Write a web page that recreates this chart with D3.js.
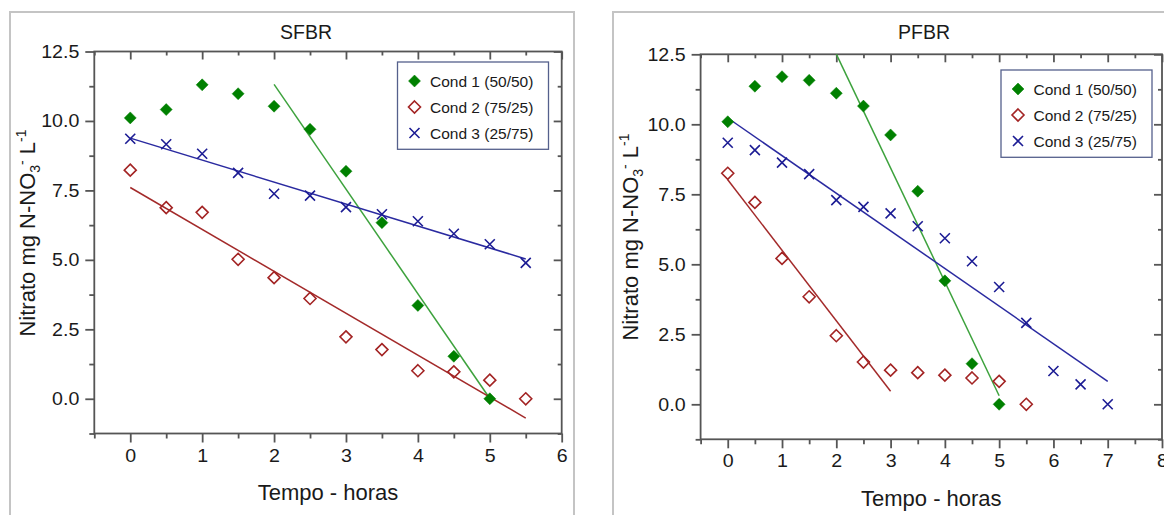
<!DOCTYPE html>
<meta charset="utf-8">
<script src="https://cdn.jsdelivr.net/npm/d3@7"></script>
<style>
  body { margin: 0; background: #fff; }
  text { font-family: "Liberation Sans", Arial, sans-serif; fill: #1a1a1a; }
</style>
<svg></svg>
<script>
    // tempo (horas)
    var horasA = [0, 0.5, 1, 1.5, 2, 2.5, 3, 3.5, 4, 4.5, 5];
    var horasB = [0, 0.5, 1, 1.5, 2, 2.5, 3, 3.5, 4, 4.5, 5, 5.5];
    var horasC = [0, 0.5, 1, 1.5, 2, 2.5, 3, 3.5, 4, 4.5, 5, 5.5, 6, 6.5, 7];

    // SFBR - nitrato mg N-NO3 / L
    var sfbrCond1 = [10.11, 10.41, 11.30, 10.98, 10.53, 9.70, 8.19, 6.34, 3.36, 1.53, 0.0];
    var sfbrCond2 = [8.23, 6.88, 6.71, 5.02, 4.36, 3.61, 2.23, 1.77, 1.01, 0.97, 0.67, 0.0];
    var sfbrCond3 = [9.36, 9.16, 8.82, 8.13, 7.38, 7.31, 6.90, 6.64, 6.39, 5.94, 5.56, 4.89];
    // PFBR
    var pfbrCond1 = [10.09, 11.36, 11.70, 11.57, 11.11, 10.65, 9.62, 7.61, 4.41, 1.45, 0.0];
    var pfbrCond2 = [8.25, 7.21, 5.21, 3.84, 2.45, 1.51, 1.22, 1.13, 1.04, 0.94, 0.82, 0.0];
    var pfbrCond3 = [9.34, 9.08, 8.63, 8.22, 7.29, 7.05, 6.82, 6.36, 5.93, 5.11, 4.19, 2.91, 1.19, 0.71, 0.0];

    // intervalos usados para as retas de regressao
    var sfbrFits = [[2, 5], [0, 5.5], [0, 5.5]];
    var pfbrFits = [[2, 5], [0, 3], [0, 7]];

    var legendLabels = ["Cond 1 (50/50)", "Cond 2 (75/25)", "Cond 3 (25/75)"];
    var yTicks = [0, 2.5, 5, 7.5, 10, 12.5];

    var markColor = ["#008000", "#a32424", "#1c1c94"];
    var lineColor = ["#3da23d", "#a32a2a", "#2a2aa0"];
    var shapes = ["M0,-6L6,0L0,6L-6,0Z", "M0,-6L6,0L0,6L-6,0Z", "M-5,-5L5,5M5,-5L-5,5"];

    var svg = d3.select("svg").attr("width", 1164).attr("height", 515);

    var panels = [
        { title: "SFBR", frame: [10, 12], x0: 94.3, x1: 561.7, y0: 51.5, y1: 433.5, xMax: 6,
          titleX: 306, ylabX: 35, ylabY: 233, leg: [397.5, 62],
          xs: [horasA, horasB, horasB], ys: [sfbrCond1, sfbrCond2, sfbrCond3], fits: sfbrFits },
        { title: "PFBR", frame: [613, 12], x0: 700.6, x1: 1162, y0: 54.3, y1: 439.3, xMax: 8,
          titleX: 924, ylabX: 638, ylabY: 237, leg: [1001, 70],
          xs: [horasA, horasB, horasC], ys: [pfbrCond1, pfbrCond2, pfbrCond3], fits: pfbrFits }
    ];

    function fitLine(xs, ys, range) {
        var px = [], py = [];
        xs.forEach((x, i) => { if (x >= range[0] && x <= range[1]) { px.push(x); py.push(ys[i]); } });
        var mx = d3.mean(px), my = d3.mean(py);
        var sxy = d3.sum(px, (x, i) => (x - mx) * (py[i] - my));
        var sxx = d3.sum(px, x => (x - mx) * (x - mx));
        var b = sxy / sxx, a = my - b * mx;
        return [[range[0], a + b * range[0]], [range[1], a + b * range[1]]];
    }

    function stretch(sel, k) {
        sel.each(function () {
            var w = this.getComputedTextLength();
            d3.select(this).attr("textLength", w * k).attr("lengthAdjust", "spacingAndGlyphs");
        });
    }

    panels.forEach((p, pi) => {
        svg.append("rect")
            .attr("x", p.frame[0]).attr("y", p.frame[1])
            .attr("width", 564).attr("height", 600)
            .attr("fill", "none").attr("stroke", "#c4c4c4").attr("stroke-width", 2);

        var x = d3.scaleLinear().domain([-0.5, p.xMax]).range([p.x0, p.x1]);
        var y = d3.scaleLinear().domain([-1.25, 12.5]).range([p.y1, p.y0]);

        var xMajor = d3.range(0, p.xMax + 0.01, 1);
        var xMinor = d3.range(-0.5, p.xMax + 0.01, 0.5).filter(v => v % 1 !== 0);
        var yMinor = d3.range(-1.25, 12.6, 1.25).filter(v => yTicks.indexOf(v) < 0);

        var g = svg.append("g");
        var axes = [
            [d3.axisBottom(x).tickValues(xMajor).tickSize(9).tickFormat(d3.format("d")), "translate(0," + p.y1 + ")", true],
            [d3.axisBottom(x).tickValues(xMinor).tickSize(5).tickFormat(""), "translate(0," + p.y1 + ")"],
            [d3.axisTop(x).tickValues(xMajor).tickSize(-8).tickFormat(""), "translate(0," + p.y0 + ")"],
            [d3.axisTop(x).tickValues(xMinor).tickSize(-4).tickFormat(""), "translate(0," + p.y0 + ")"],
            [d3.axisLeft(y).tickValues(yTicks).tickSize(9).tickFormat(d3.format(".1f")), "translate(" + p.x0 + ",0)", true],
            [d3.axisLeft(y).tickValues(yMinor).tickSize(5).tickFormat(""), "translate(" + p.x0 + ",0)"],
            [d3.axisRight(y).tickValues(yTicks).tickSize(-8).tickFormat(""), "translate(" + p.x1 + ",0)"],
            [d3.axisRight(y).tickValues(yMinor).tickSize(-4).tickFormat(""), "translate(" + p.x1 + ",0)"]
        ];
        axes.forEach(a => {
            var ax = g.append("g").attr("transform", a[1]).call(a[0].tickPadding(a[2] ? 6 : 3));
            ax.attr("font-size", 18.5).attr("font-family", null);
            ax.select(".domain").remove();
            ax.selectAll("line").attr("stroke", "#555").attr("stroke-width", 1.8);
            ax.selectAll("text").attr("fill", "#111");
            if (a[2]) stretch(ax.selectAll("text"), 1.06);
        });
        g.append("rect")
            .attr("x", p.x0).attr("y", p.y0)
            .attr("width", p.x1 - p.x0).attr("height", p.y1 - p.y0)
            .attr("fill", "none").attr("stroke", "#555").attr("stroke-width", 1.8);

        var clipId = "clip" + pi;
        svg.append("clipPath").attr("id", clipId).append("rect")
            .attr("x", p.x0).attr("y", p.y0).attr("width", p.x1 - p.x0).attr("height", p.y1 - p.y0);

        var line = d3.line().x(d => x(d[0])).y(d => y(d[1]));
        var plot = svg.append("g").attr("clip-path", "url(#" + clipId + ")");
        [0, 1, 2].forEach(s => {
            plot.append("path")
                .attr("d", line(fitLine(p.xs[s], p.ys[s], p.fits[s])))
                .attr("fill", "none").attr("stroke", lineColor[s]).attr("stroke-width", 1.5);
        });
        [0, 1, 2].forEach(s => {
            plot.selectAll(".m" + s).data(p.ys[s]).enter().append("path")
                .attr("class", "m" + s)
                .attr("transform", (d, i) => "translate(" + x(p.xs[s][i]) + "," + y(d) + ")")
                .attr("d", shapes[s])
                .attr("fill", s === 0 ? markColor[s] : "none")
                .attr("stroke", markColor[s])
                .attr("stroke-width", s === 0 ? 0.5 : 1.6);
        });

        svg.append("text").attr("x", p.titleX).attr("y", 39)
            .attr("text-anchor", "middle").attr("font-size", 19.5).text(p.title);

        svg.append("text").attr("x", (p.x0 + p.x1) / 2).attr("y", p.y1 + 66.5)
            .attr("text-anchor", "middle").attr("font-size", 22).text("Tempo - horas");

        var yl = svg.append("text")
            .attr("transform", "translate(" + p.ylabX + "," + p.ylabY + ") rotate(-90)")
            .attr("text-anchor", "middle").attr("font-size", 22);
        yl.append("tspan").text("Nitrato mg N-NO");
        yl.append("tspan").attr("dy", 5).attr("font-size", 14).text("3");
        yl.append("tspan").attr("dy", -13).attr("font-size", 14).text("-");
        yl.append("tspan").attr("dy", 8).text(" L");
        yl.append("tspan").attr("dy", -9).attr("font-size", 14).text("-1");

        var lg = svg.append("g").attr("transform", "translate(" + p.leg[0] + "," + p.leg[1] + ")");
        lg.append("rect").attr("width", 151).attr("height", 87.3)
            .attr("fill", "#fff").attr("stroke", "#55608c").attr("stroke-width", 1.3);
        legendLabels.forEach((t, s) => {
            var ry = 19 + s * 26;
            lg.append("path").attr("transform", "translate(17," + ry + ")")
                .attr("d", shapes[s])
                .attr("fill", s === 0 ? markColor[s] : "none")
                .attr("stroke", markColor[s])
                .attr("stroke-width", s === 0 ? 0.5 : 1.6);
            lg.append("text").attr("x", 32.5).attr("y", ry + 5.5)
                .attr("font-size", 15.5).text(t);
        });
    });
</script>
